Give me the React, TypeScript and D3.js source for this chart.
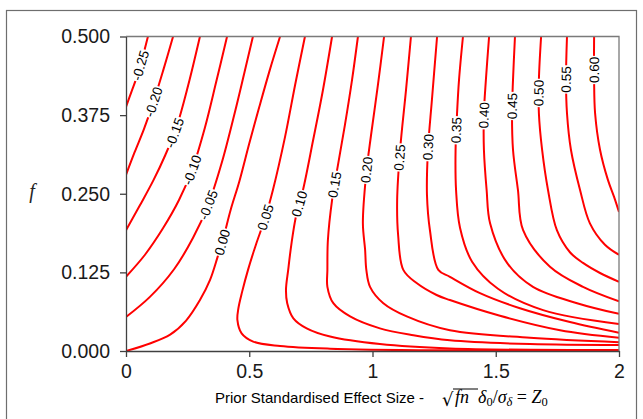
import React, { useEffect, useRef } from 'react';
import * as d3 from 'd3';

// contour levels (labels)
const levels = [-0.25, -0.2, -0.15, -0.1, -0.05, 0, 0.05, 0.1, 0.15, 0.2, 0.25, 0.3, 0.35, 0.4, 0.45, 0.5, 0.55, 0.6];

// axis ticks
const xTicks = [0, 0.5, 1, 1.5, 2];
const yTicks = [0, 0.125, 0.25, 0.375, 0.5];

const cM25 = [[0, 0.388], [0.022, 0.412], [0.045, 0.437], [0.068, 0.468], [0.089, 0.5]];
const cM20 = [[0, 0.28], [0.035, 0.316], [0.072, 0.352], [0.108, 0.392], [0.15, 0.445], [0.191, 0.5]];
const cM15 = [[0, 0.192], [0.057, 0.232], [0.112, 0.272], [0.16, 0.312], [0.205, 0.356], [0.252, 0.422], [0.3, 0.5]];
const cM10 = [[0, 0.118], [0.077, 0.153], [0.15, 0.195], [0.215, 0.24], [0.268, 0.288], [0.32, 0.355], [0.366, 0.428], [0.41, 0.5]];
const cM05 = [[0, 0.054], [0.097, 0.086], [0.195, 0.13], [0.272, 0.18], [0.333, 0.232], [0.389, 0.3], [0.442, 0.38], [0.48, 0.442], [0.515, 0.5]];
const c000 = [[0, 0], [0.097, 0.012], [0.179, 0.026], [0.243, 0.048], [0.3, 0.081], [0.341, 0.113], [0.372, 0.15], [0.395, 0.18], [0.425, 0.225], [0.46, 0.27], [0.5, 0.33], [0.54, 0.387], [0.582, 0.445], [0.625, 0.5]];
const c005 = [[0.726, 0.5], [0.686, 0.423], [0.645, 0.34], [0.596, 0.256], [0.564, 0.211], [0.527, 0.169], [0.495, 0.129], [0.471, 0.094], [0.456, 0.068], [0.452, 0.049], [0.469, 0.028], [0.516, 0.015], [0.625, 0.008], [0.828, 0.0037], [1.314, 0.001], [2, 0.0004]];
const c010 = [[0.836, 0.5], [0.799, 0.415], [0.759, 0.335], [0.718, 0.256], [0.69, 0.215], [0.671, 0.17], [0.658, 0.129], [0.649, 0.097], [0.654, 0.076], [0.679, 0.052], [0.733, 0.036], [0.828, 0.023], [1.03, 0.011], [1.314, 0.004], [2, 0.0015]];
const c015 = [[0.941, 0.5], [0.917, 0.431], [0.888, 0.359], [0.86, 0.296], [0.836, 0.24], [0.819, 0.176], [0.817, 0.129], [0.817, 0.102], [0.841, 0.076], [0.909, 0.055], [1.03, 0.036], [1.166, 0.025], [1.314, 0.017], [1.639, 0.011], [2, 0.0095]];
const c020 = [[1.047, 0.5], [1.022, 0.423], [0.994, 0.343], [0.974, 0.28], [0.961, 0.203], [0.97, 0.161], [0.975, 0.129], [0.99, 0.102], [1.044, 0.076], [1.139, 0.055], [1.314, 0.033], [1.639, 0.021], [2, 0.014]];
const c025 = [[1.156, 0.5], [1.136, 0.415], [1.112, 0.32], [1.1, 0.24], [1.104, 0.184], [1.125, 0.129], [1.179, 0.108], [1.26, 0.089], [1.314, 0.081], [1.517, 0.056], [1.761, 0.033], [2, 0.021]];
const c030 = [[1.262, 0.5], [1.241, 0.399], [1.225, 0.32], [1.221, 0.248], [1.233, 0.192], [1.267, 0.129], [1.314, 0.118], [1.436, 0.092], [1.598, 0.068], [1.801, 0.046], [2, 0.029]];
const c035 = [[1.367, 0.5], [1.351, 0.431], [1.343, 0.378], [1.337, 0.32], [1.339, 0.256], [1.355, 0.196], [1.404, 0.142], [1.509, 0.099], [1.692, 0.065], [2, 0.043]];
const c040 = [[1.473, 0.5], [1.46, 0.431], [1.452, 0.378], [1.452, 0.32], [1.463, 0.256], [1.477, 0.203], [1.546, 0.14], [1.651, 0.102], [1.83, 0.076], [2, 0.059]];
const c045 = [[1.578, 0.5], [1.57, 0.431], [1.566, 0.378], [1.57, 0.32], [1.59, 0.256], [1.611, 0.192], [1.72, 0.134], [1.854, 0.102], [2, 0.079]];
const c050 = [[1.684, 0.5], [1.675, 0.431], [1.675, 0.378], [1.688, 0.32], [1.712, 0.256], [1.748, 0.192], [1.801, 0.157], [1.854, 0.14], [1.923, 0.124], [2, 0.11]];
const c055 = [[1.789, 0.5], [1.785, 0.431], [1.789, 0.378], [1.805, 0.32], [1.842, 0.256], [1.882, 0.203], [1.943, 0.169], [2, 0.153]];
const c060 = [[1.899, 0.5], [1.899, 0.431], [1.903, 0.378], [1.923, 0.32], [1.955, 0.272], [1.98, 0.245], [2, 0.221]];

const contours = [cM25, cM20, cM15, cM10, cM05, c000, c005, c010, c015, c020, c025, c030, c035, c040, c045, c050, c055, c060];

// label anchor positions [Z0, f]
const labelZ = [0.077, 0.13, 0.199, 0.268, 0.333, 0.389, 0.564, 0.698, 0.848, 0.978, 1.103, 1.221, 1.335, 1.456, 1.566, 1.671, 1.785, 1.899];
const labelF = [0.452, 0.394, 0.347, 0.288, 0.232, 0.173, 0.213, 0.235, 0.264, 0.288, 0.308, 0.324, 0.351, 0.375, 0.39, 0.41, 0.432, 0.447];

const W = 643;
const H = 419;

export default function App() {
  const ref = useRef<SVGSVGElement>(null);

  useEffect(() => {
    const svg = d3.select(ref.current);
    svg.selectAll('*').remove();

    const left = 126, right = 619, top = 36.5, bottom = 351;
    const x = d3.scaleLinear().domain([0, 2]).range([left, right]);
    const y = d3.scaleLinear().domain([0, 0.5]).range([bottom, top]);

    svg.append('rect').attr('x', 6.5).attr('y', 10.5).attr('width', 630).attr('height', 420)
      .attr('fill', '#ffffff').attr('stroke', '#6e6e6e').attr('stroke-width', 1.2);

    svg.append('defs').append('clipPath').attr('id', 'plotclip')
      .append('rect').attr('x', left).attr('y', top).attr('width', right - left).attr('height', bottom - top);

    const line = d3.line<number[]>()
      .x((d) => x(d[0]))
      .y((d) => y(d[1]))
      .curve(d3.curveCatmullRom.alpha(0.5));

    const gc = svg.append('g').attr('clip-path', 'url(#plotclip)');
    const paths = contours.map((pts) =>
      gc.append('path').attr('d', line(pts as any) as string)
        .attr('fill', 'none').attr('stroke', '#ff0000').attr('stroke-width', 2)
    );

    // frame top/right
    svg.append('path').attr('d', `M${left},${top}H${right}V${bottom}`)
      .attr('fill', 'none').attr('stroke', '#7a7a7a').attr('stroke-width', 1.3);

    // axes
    const ax = svg.append('g').attr('transform', `translate(0,${bottom})`)
      .call(d3.axisBottom(x).tickValues(xTicks).tickFormat((d) => String(d)).tickSize(6).tickSizeOuter(0).tickPadding(7));
    const ay = svg.append('g').attr('transform', `translate(${left},0)`)
      .call(d3.axisLeft(y).tickValues(yTicks).tickFormat(d3.format('.3f')).tickSize(6).tickSizeOuter(0).tickPadding(10));
    [ax, ay].forEach((g) => {
      g.attr('font-family', 'Liberation Sans, Arial, sans-serif').attr('font-size', 19.5);
      g.selectAll('path.domain').attr('stroke', '#404040').attr('stroke-width', 1.3);
      g.selectAll('.tick line').attr('stroke', '#404040').attr('stroke-width', 1.3);
      g.selectAll('.tick text').attr('fill', '#1a1a1a');
    });

    // contour labels
    const gl = svg.append('g');
    contours.forEach((_, i) => {
      const node = paths[i].node() as SVGPathElement;
      const L = node.getTotalLength();
      const tx = x(labelZ[i]);
      const ty = y(labelF[i]);
      let best = 0;
      let bd = Infinity;
      for (let s = 0; s <= L; s += 0.5) {
        const p = node.getPointAtLength(s);
        const dd = (p.x - tx) ** 2 + (p.y - ty) ** 2;
        if (dd < bd) { bd = dd; best = s; }
      }
      const p = node.getPointAtLength(best);
      let p1 = node.getPointAtLength(Math.max(0, best - 7));
      let p2 = node.getPointAtLength(Math.min(L, best + 7));
      if (p2.y > p1.y) { const t = p1; p1 = p2; p2 = t; }
      const ang = (Math.atan2(p2.y - p1.y, p2.x - p1.x) * 180) / Math.PI;
      const g = gl.append('g').attr('transform', `translate(${p.x},${p.y}) rotate(${ang})`);
      const rect = g.append('rect').attr('fill', '#ffffff');
      const t = g.append('text').attr('text-anchor', 'middle').attr('dy', '0.36em')
        .attr('font-family', 'Liberation Sans, Arial, sans-serif').attr('font-size', 13.5).attr('fill', '#000000')
        .text(levels[i].toFixed(2));
      const w = (t.node() as SVGTextElement).getComputedTextLength();
      rect.attr('x', -w / 2 - 1).attr('y', -6).attr('width', w + 2).attr('height', 12);
    });

    // y title
    svg.append('text').attr('x', 32).attr('y', 198).attr('text-anchor', 'middle')
      .attr('font-family', 'Liberation Serif, serif').attr('font-style', 'italic').attr('font-size', 20)
      .attr('fill', '#262626').text('f');

    // x title
    svg.append('text').attr('x', 215).attr('y', 403)
      .attr('font-family', 'Liberation Sans, Arial, sans-serif').attr('font-size', 15).attr('fill', '#000000')
      .text('Prior Standardised Effect Size -');
    const mf = 'Liberation Serif, serif';
    svg.append('text').attr('x', 442).attr('y', 406).attr('font-family', 'DejaVu Sans, sans-serif').attr('font-size', 18).text('√');
    svg.append('line').attr('x1', 453).attr('x2', 478).attr('y1', 389).attr('y2', 389).attr('stroke', '#000').attr('stroke-width', 1);
    svg.append('text').attr('x', 455).attr('y', 403).attr('font-family', mf).attr('font-style', 'italic').attr('font-size', 18).text('fn');
    const mt = svg.append('text').attr('x', 478).attr('y', 403).attr('font-family', mf).attr('font-style', 'italic').attr('font-size', 18);
    mt.append('tspan').text('δ');
    mt.append('tspan').attr('font-size', 12.5).attr('font-style', 'normal').attr('dy', 3).text('0');
    mt.append('tspan').attr('dy', -3).attr('font-style', 'normal').text('/');
    mt.append('tspan').text('σ');
    mt.append('tspan').attr('font-size', 12.5).attr('dy', 3).text('δ');
    mt.append('tspan').attr('dy', -3).attr('font-style', 'normal').text(' = ');
    mt.append('tspan').text('Z');
    mt.append('tspan').attr('font-size', 12.5).attr('font-style', 'normal').attr('dy', 3).text('0');
  }, []);

  return (
    <svg ref={ref} width={W} height={H} style={{ position: 'absolute', left: 0, top: 0, background: '#ffffff' }} />
  );
}
